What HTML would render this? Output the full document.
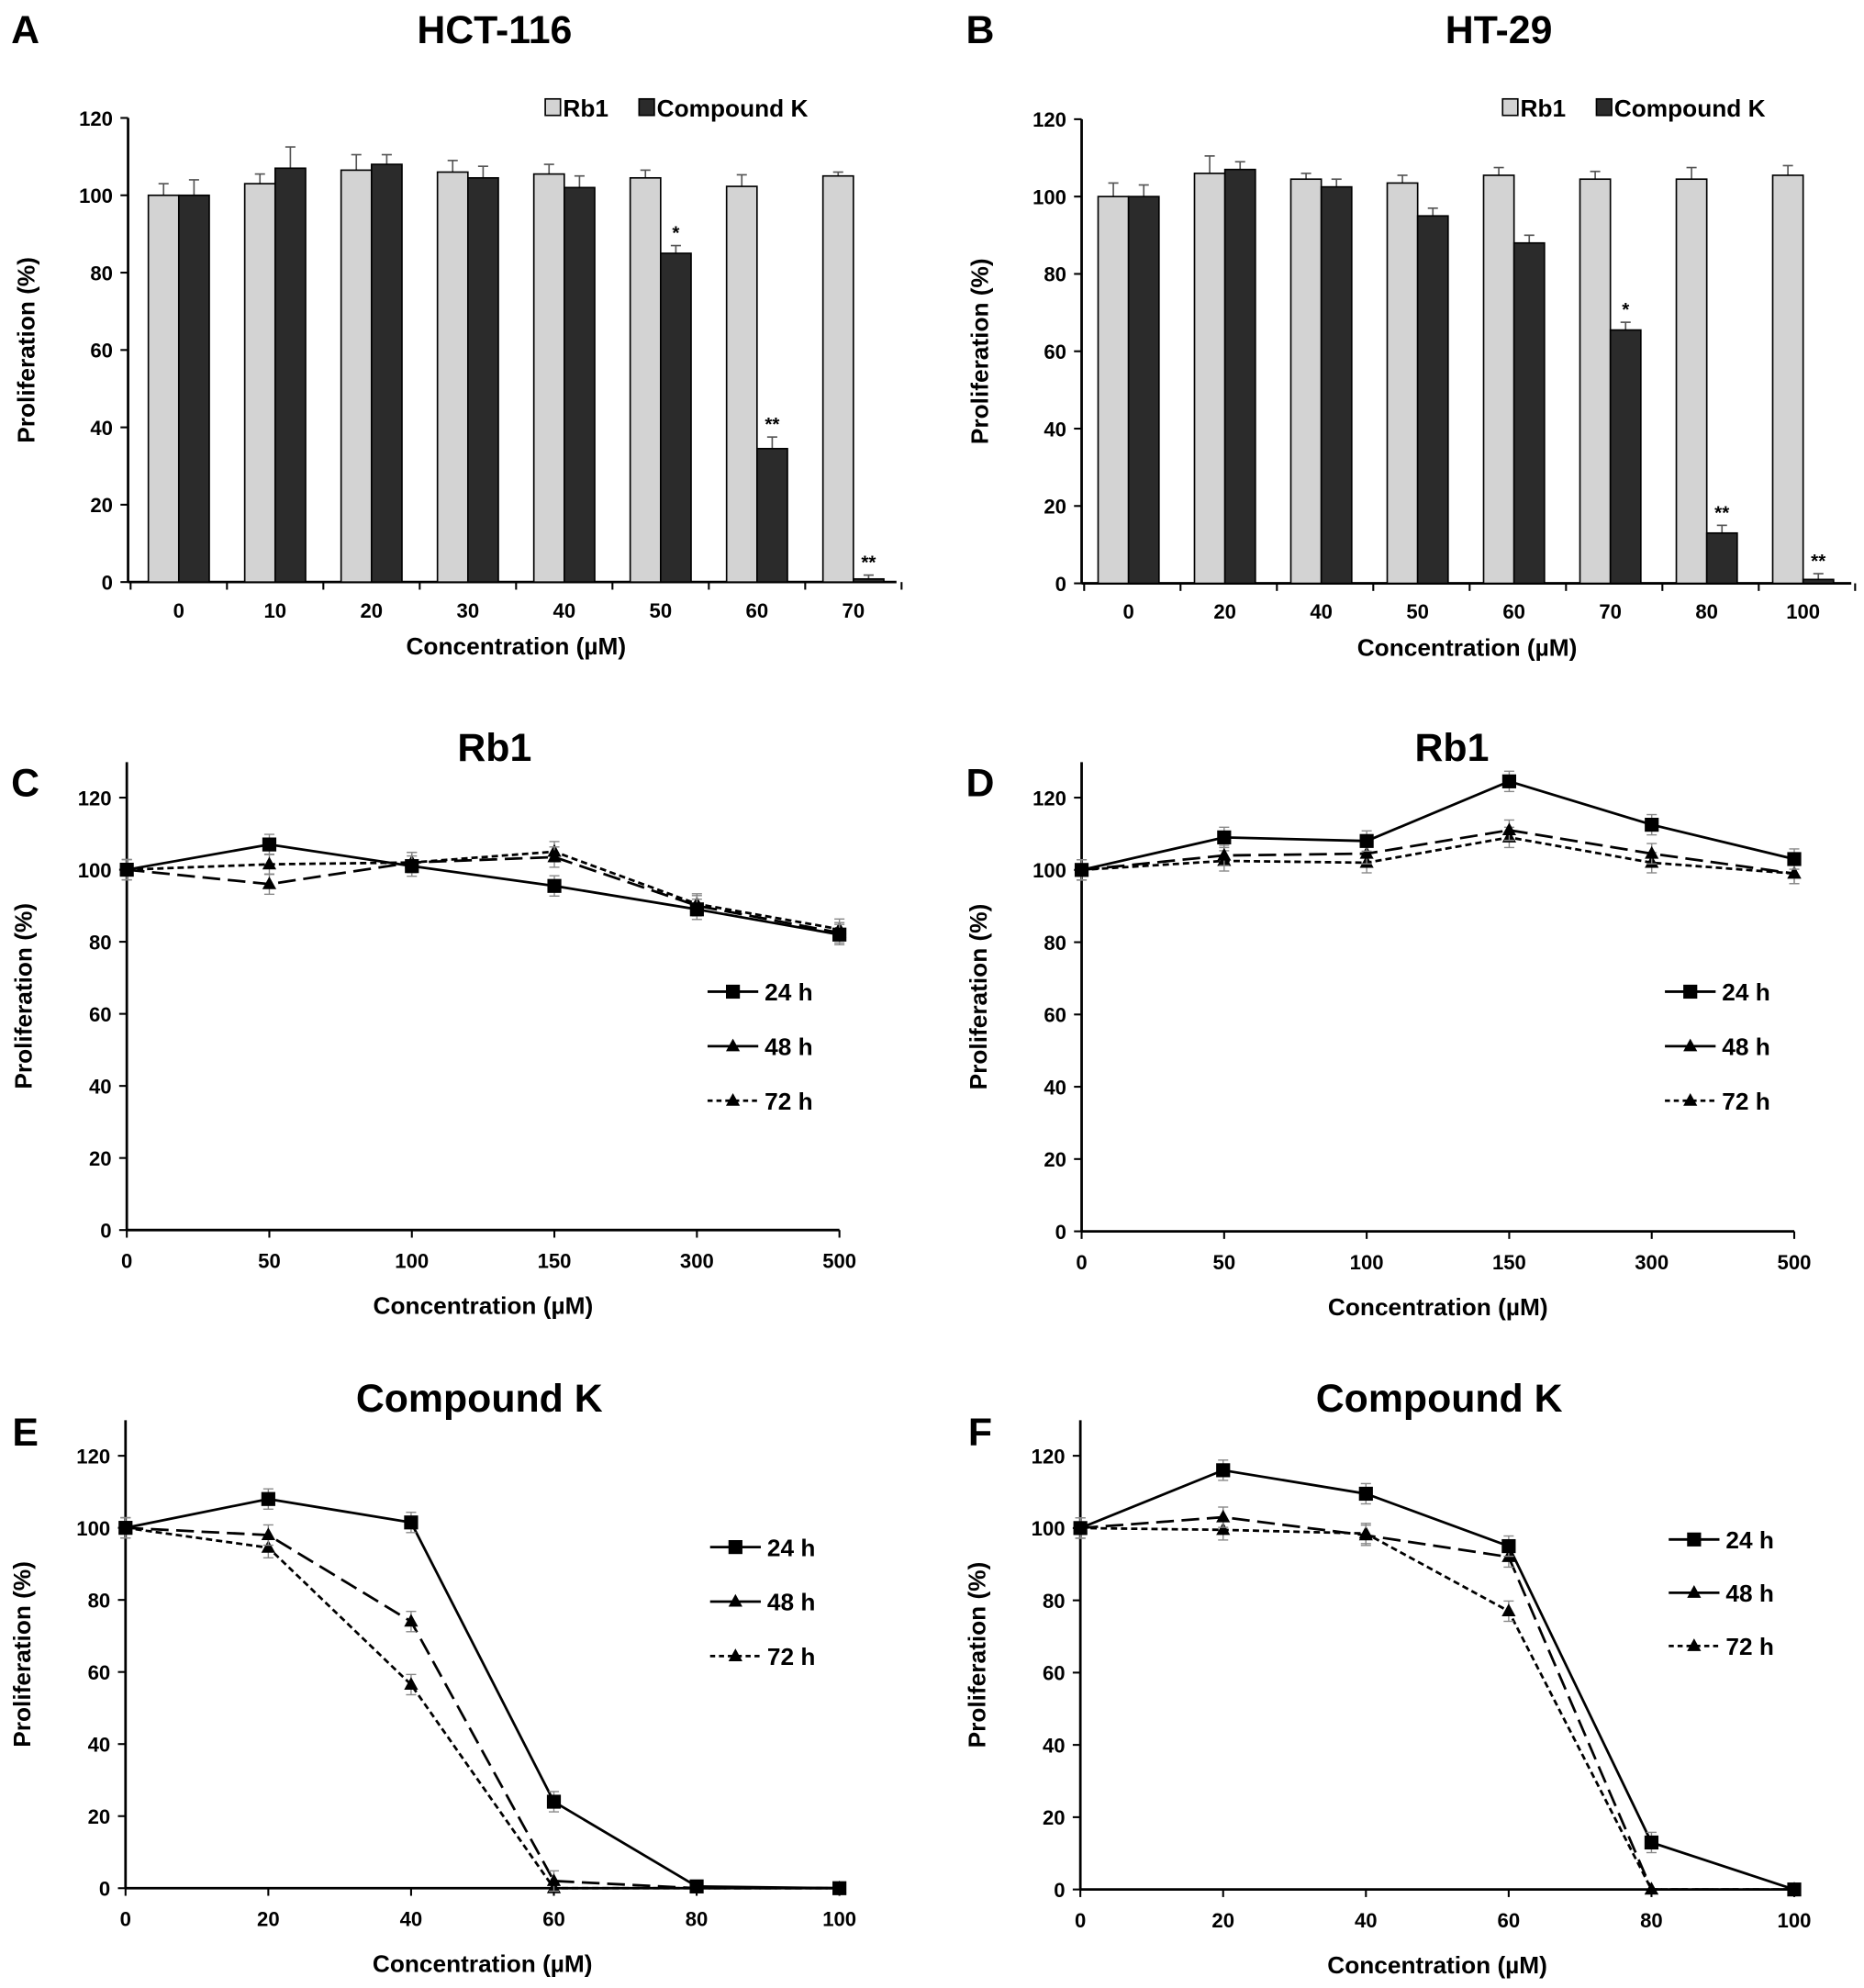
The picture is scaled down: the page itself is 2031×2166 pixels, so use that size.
<!DOCTYPE html>
<html><head><meta charset="utf-8">
<style>
html,body{margin:0;padding:0;background:#fff;}
svg{display:block;font-family:"Liberation Sans",sans-serif;font-weight:bold;}
</style></head>
<body>
<svg id="fig" width="2031" height="2166" viewBox="0 0 1470 1567.7" xmlns="http://www.w3.org/2000/svg"></svg>
<script>
// ---- Panel A data (HCT-116 bars)
const aCats = ["0","10","20","30","40","50","60","70"];
const aRb1 = [100,103,106.5,106,105.5,104.5,102.3,105];
const aRb1Err = [3,2.5,4,3,2.5,2,3,1];
const aCK = [100,107,108,104.5,102,85,34.5,0.8];
const aCKErr = [4,5.5,2.5,3,3,2,3,1];
const aStars = ["","","","","","*","**","**"];
// ---- Panel B data (HT-29 bars)
const bCats = ["0","20","40","50","60","70","80","100"];
const bRb1 = [100,106,104.5,103.5,105.5,104.5,104.5,105.5];
const bRb1Err = [3.5,4.5,1.5,2,2,2,3,2.5];
const bCK = [100,107,102.5,95,88,65.5,13,1];
const bCKErr = [3,2,2,2,2,2,2,1.5];
const bStars = ["","","","","","*","**","**"];
const barTicks = [0,20,40,60,80,100,120];
// ---- Panel C/D (Rb1 lines)
const rbCats = ["0","50","100","150","300","500"];
const c24 = [100,107,101,95.5,89,82];
const c48 = [100,96,102,103.5,90,82.5];
const c72 = [100,101.5,102,105,90.5,83.5];
const d24 = [100,109,108,124.5,112.5,103];
const d48 = [100,104,104.5,111,104.5,99];
const d72 = [100,102.5,102,109,102,99];
// ---- Panel E/F (Compound K lines)
const ckCats = ["0","20","40","60","80","100"];
const e24 = [100,108,101.5,24,0.5,0];
const e48 = [100,98,74,2,0,0];
const e72 = [100,94.5,56.5,0,0,0];
const f24 = [100,116,109.5,95,13,0];
const f48 = [100,103,98,92,0,0];
const f72 = [100,99.5,98.5,77,0,0];
const lineTicks = [0,20,40,60,80,100,120];

const NS="http://www.w3.org/2000/svg";
const svg=document.getElementById('fig');
function mk(tag,attrs,parent,text){const e=document.createElementNS(NS,tag);for(const k in attrs)e.setAttribute(k,attrs[k]);if(text!==undefined)e.textContent=text;(parent||svg).appendChild(e);return e;}

function axesCommon(g,x0,y0,ytop,yScale,ticks,xlabelY,ylabelX,title,tx,ty,letter,lx,ly){
  const ya=mk('line',{x1:x0,y1:ytop,x2:x0,y2:y0,stroke:'#000','stroke-width':2},g);
  
  ticks.forEach(t=>{
    const y=yScale(t);
    mk('line',{x1:x0-6,y1:y,x2:x0,y2:y,stroke:'#000','stroke-width':1.5},g);
    const tl=mk('text',{x:x0-12,y:y+6,'text-anchor':'end','font-size':16},g,String(t));
    
  });
  const yl=mk('text',{x:ylabelX,y:(y0+ytop)/2,'text-anchor':'middle','font-size':19,transform:`rotate(-90 ${ylabelX} ${(y0+ytop)/2})`},g,'Proliferation (%)');
  
  const tt=mk('text',{x:tx,y:ty,'text-anchor':'middle','font-size':31},g,title);
  
  const lt=mk('text',{x:lx,y:ly,'text-anchor':'middle','font-size':31},g,letter);
  
}

function barPanel(o){
  const g=mk('g',{});
  const ys=v=>o.y0-(v/120)*(o.y0-o.y120);
  const xc=i=>o.xFirst+i*o.step;
  axesCommon(g,o.x0,o.y0,o.y120,ys,barTicks,0,o.x0-74,o.title,o.tx,34,o.letter,o.lx,34);
  const xa=mk('line',{x1:o.x0,y1:o.y0,x2:o.xEnd,y2:o.y0,stroke:'#000','stroke-width':2},g);
  
  for(let k=0;k<=o.cats.length;k++){const x=o.x0+2+k*o.step;mk('line',{x1:x,y1:o.y0,x2:x,y2:o.y0+6,stroke:'#000','stroke-width':1.5},g);}
  const bw=24;
  o.cats.forEach((c,i)=>{
    const x=xc(i);
    [[o.s1,o.e1,'#d3d3d3',-bw,'bar-rb1'],[o.s2,o.e2,'#2b2b2b',0,'bar-compound-k']].forEach(([s,e,col,off,nm])=>{
      const v=s[i];
      mk('line',{x1:x+off+bw/2,y1:ys(v),x2:x+off+bw/2,y2:ys(v+e[i]),stroke:'#555','stroke-width':1.2},g);
      mk('line',{x1:x+off+bw/2-4,y1:ys(v+e[i]),x2:x+off+bw/2+4,y2:ys(v+e[i]),stroke:'#555','stroke-width':1.2},g);
      const r=mk('rect',{x:x+off,y:ys(v),width:bw,height:o.y0-ys(v),fill:col,stroke:'#000','stroke-width':1.2},g);
      
    });
    if(o.stars[i]){const st=mk('text',{x:x+bw/2,y:ys(o.s2[i]+o.e2[i])-5,'text-anchor':'middle','font-size':15},g,o.stars[i]);
      }
    const tl=mk('text',{x:x,y:o.y0+28,'text-anchor':'middle','font-size':16},g,c);
    
  });
  const xl=mk('text',{x:o.xlx,y:o.y0+57,'text-anchor':'middle','font-size':19},g,'Concentration (µM)');
  
  const lg=mk('g',{},g);
  mk('rect',{x:o.legX,y:78,width:12,height:13,fill:'#d3d3d3',stroke:'#000','stroke-width':1.2},lg);
  mk('text',{x:o.legX+14,y:92,'font-size':19},lg,'Rb1');
  mk('rect',{x:o.legX+74,y:78,width:12,height:13,fill:'#2b2b2b',stroke:'#000','stroke-width':1.2},lg);
  mk('text',{x:o.legX+88,y:92,'font-size':19},lg,'Compound K');
}

function marker(g,type,x,y){
  if(type==='sq') return mk('rect',{x:x-5.5,y:y-5.5,width:11,height:11,fill:'#000'},g);
  return mk('polygon',{points:`${x},${y-6} ${x-5.5},${y+4} ${x+5.5},${y+4}`,fill:'#000'},g);
}

function linePanel(o){
  const g=mk('g',{});
  const ys=v=>o.y0-(v/120)*(o.y0-o.y120);
  const step=(o.xEnd-o.x0)/(o.cats.length-1);
  const xs=i=>o.x0+i*step;
  axesCommon(g,o.x0,o.y0,o.ytop,ys,lineTicks,0,o.x0-75,o.title,o.tx,o.ty,o.letter,o.lx,o.ly);
  const xa=mk('line',{x1:o.x0,y1:o.y0,x2:o.xEnd,y2:o.y0,stroke:'#000','stroke-width':2},g);
  
  o.cats.forEach((c,i)=>{
    mk('line',{x1:xs(i),y1:o.y0,x2:xs(i),y2:o.y0+6,stroke:'#000','stroke-width':1.5},g);
    const tl=mk('text',{x:xs(i),y:o.y0+30,'text-anchor':'middle','font-size':16},g,c);
    
  });
  const xl=mk('text',{x:(o.x0+o.xEnd)/2,y:o.y0+66,'text-anchor':'middle','font-size':19},g,'Concentration (µM)');
  
  const series=[[o.s72,'5,3','tri','series-72h'],[o.s48,'14,6','tri','series-48h'],[o.s24,'','sq','series-24h']];
  series.forEach(([d,dash,mt,nm])=>{
    const sg=mk('g',{},g);
    const pts=d.map((v,i)=>`${xs(i)},${ys(v)}`).join(' ');
    const pl=mk('polyline',{points:pts,fill:'none',stroke:'#000','stroke-width':2,'stroke-dasharray':dash},sg);
    
    d.forEach((v,i)=>{
      if(v>1){mk('line',{x1:xs(i),y1:ys(v)-8,x2:xs(i),y2:ys(v)+8,stroke:'#888','stroke-width':1},sg);
        mk('line',{x1:xs(i)-4,y1:ys(v)-8,x2:xs(i)+4,y2:ys(v)-8,stroke:'#888','stroke-width':1},sg);
        mk('line',{x1:xs(i)-4,y1:ys(v)+8,x2:xs(i)+4,y2:ys(v)+8,stroke:'#888','stroke-width':1},sg);}
      const m=marker(sg,mt,xs(i),ys(v));
      
    });
  });
  const lg=mk('g',{},g);
  [['24 h','','sq'],['48 h','','tri'],['72 h','4,3','tri']].forEach(([lab,dash,mt],k)=>{
    const y=o.legY+k*o.legGap;
    mk('line',{x1:o.legX,y1:y,x2:o.legX+40,y2:y,stroke:'#000','stroke-width':2,'stroke-dasharray':dash},lg);
    marker(lg,mt,o.legX+20,y);
    const t=mk('text',{x:o.legX+45,y:y+7,'font-size':19},lg,lab);
    
  });
}

barPanel({name:'panel-a-hct116',cats:aCats,s1:aRb1,e1:aRb1Err,s2:aCK,e2:aCKErr,stars:aStars,x0:101,y0:459,y120:93,xFirst:141,step:76,xEnd:707,title:'HCT-116',tx:390,letter:'A',lx:20,xlx:407,legX:430});
barPanel({name:'panel-b-ht29',cats:bCats,s1:bRb1,e1:bRb1Err,s2:bCK,e2:bCKErr,stars:bStars,x0:853,y0:460,y120:94,xFirst:890,step:76,xEnd:1460,title:'HT-29',tx:1182,letter:'B',lx:773,xlx:1157,legX:1185});
linePanel({name:'panel-c-rb1-hct116',cats:rbCats,s24:c24,s48:c48,s72:c72,x0:100,xEnd:662,y0:970,y120:629,ytop:601,title:'Rb1',tx:390,ty:600,letter:'C',lx:20,ly:628,legX:558,legY:782,legGap:43});
linePanel({name:'panel-d-rb1-ht29',cats:rbCats,s24:d24,s48:d48,s72:d72,x0:853,xEnd:1415,y0:971,y120:629,ytop:601,title:'Rb1',tx:1145,ty:600,letter:'D',lx:773,ly:628,legX:1313,legY:782,legGap:43});
linePanel({name:'panel-e-ck-hct116',cats:ckCats,s24:e24,s48:e48,s72:e72,x0:99,xEnd:662,y0:1489,y120:1148,ytop:1120,title:'Compound K',tx:378,ty:1113,letter:'E',lx:20,ly:1140,legX:560,legY:1220,legGap:43});
linePanel({name:'panel-f-ck-ht29',cats:ckCats,s24:f24,s48:f48,s72:f72,x0:852,xEnd:1415,y0:1490,y120:1148,ytop:1120,title:'Compound K',tx:1135,ty:1113,letter:'F',lx:773,ly:1140,legX:1316,legY:1214,legGap:42});
</script>
</body></html>
